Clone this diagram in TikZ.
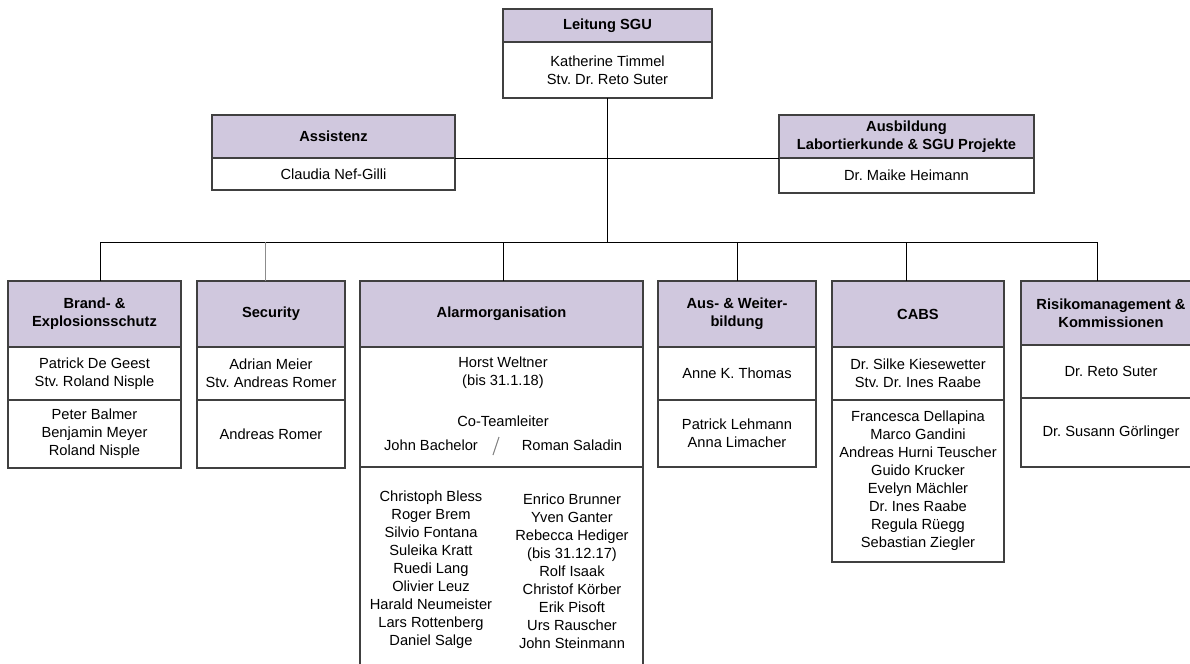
\documentclass[tikz,border=0pt]{standalone}
\usepackage{fontspec}
\setmainfont{Liberation Sans}
\usetikzlibrary{positioning}
\definecolor{headfill}{RGB}{208,200,222}
\definecolor{rulegray}{RGB}{64,64,64}
\frenchspacing

\begin{document}
\begin{tikzpicture}[
    x=0.75pt, y=-0.75pt,
    node distance=0pt,
    every node/.style={font=\fontsize{11}{13.5}\selectfont, inner sep=0pt, outer sep=0pt},
    cell/.style 2 args={
      draw=rulegray, line width=0.9pt, align=center,
      minimum width=#1*0.75pt, minimum height=#2*0.75pt
    },
    head/.style 2 args={
      cell={#1}{#2}, fill=headfill, anchor=north west,
      font=\fontsize{11}{13.5}\selectfont\bfseries
    },
    link/.style={draw=black, line width=0.7pt}
  ]
    \useasboundingbox (0,0) rectangle (1190,664);
    \clip (0,0) rectangle (1190,664);

    % Leitung
    \node[head={209}{33}] (leithead) at (503,9) {Leitung SGU};
    \node[cell={209}{56}, below=of leithead] (leitbody) {Katherine Timmel\\Stv. Dr. Reto Suter};

    % Stab
    \node[head={243}{43}] (asshead) at (212,115) {Assistenz};
    \node[cell={243}{32}, below=of asshead] (assbody) {Claudia Nef-Gilli};
    \node[head={255}{43}] (ausbhead) at (779,115) {Ausbildung\\Labortierkunde \& SGU Projekte};
    \node[cell={255}{35}, below=of ausbhead] (ausbbody) {Dr. Maike Heimann};

    % Bereiche
    \node[head={173}{66}] (brandhead) at (8,281) {Brand- \&\\Explosionsschutz};
    \node[cell={173}{53}, below=of brandhead] (brandlead) {Patrick De Geest\\Stv. Roland Nisple};
    \node[cell={173}{68}, below=of brandlead] (brandteam) {Peter Balmer\\Benjamin Meyer\\Roland Nisple};

    \node[head={148}{66}] (secuhead) at (197,281) {Security};
    \node[cell={148}{53}, below=of secuhead] (seculead) {Adrian Meier\\Stv. Andreas Romer};
    \node[cell={148}{68}, below=of seculead] (secuteam) {Andreas Romer};

    \node[head={283}{66}] (alarmhead) at (360,281) {Alarmorganisation};
    \node[cell={283}{120}, below=of alarmhead] (alarmlead) {};
    \node[cell={283}{220}, below=of alarmlead] (alarmteam) {};
    \node[align=center] (horst) at (503,372.5) {Horst Weltner\\(bis 31.1.18)};
    \node (coteam) at (503,421) {Co-Teamleiter};
    \node (bachelor) at (431,445) {John Bachelor};
    \node (saladin) at (572,445) {Roman Saladin};
    \draw[draw=black!50, line width=0.8pt] (493,455) -- (499,437);
    \node[align=center] (alarmleft) at (431,569.5) {Christoph Bless\\Roger Brem\\Silvio Fontana\\Suleika Kratt\\Ruedi Lang\\Olivier Leuz\\Harald Neumeister\\Lars Rottenberg\\Daniel Salge};
    \node[align=center] (alarmright) at (572,571) {Enrico Brunner\\Yven Ganter\\Rebecca Hediger\\(bis 31.12.17)\\Rolf Isaak\\Christof Körber\\Erik Pisoft\\Urs Rauscher\\John Steinmann};

    \node[head={158}{66}] (auswhead) at (658,281) {Aus- \& Weiter-\\bildung};
    \node[cell={158}{53}, below=of auswhead] (auswlead) {Anne K. Thomas};
    \node[cell={158}{67}, below=of auswlead] (auswteam) {Patrick Lehmann\\Anna Limacher};

    \node[head={172}{66}] (cabshead) at (832,281) {CABS};
    \node[cell={172}{53}, below=of cabshead] (cabslead) {Dr. Silke Kiesewetter\\Stv. Dr. Ines Raabe};
    \node[cell={172}{162}, below=of cabslead] (cabsteam) {Francesca Dellapina\\Marco Gandini\\Andreas Hurni Teuscher\\Guido Krucker\\Evelyn Mächler\\Dr. Ines Raabe\\Regula Rüegg\\Sebastian Ziegler};

    \node[head={180}{64}] (riskhead) at (1021,281) {Risikomanagement \&\\Kommissionen};
    \node[cell={180}{53}, below=of riskhead] (risklead) {Dr. Reto Suter};
    \node[cell={180}{69}, below=of risklead] (riskteam) {Dr. Susann Görlinger};

    % Verbindungen
    \foreach \n/\x in {brand/100, secu/265, alarm/503, ausw/737, cabs/906, risk/1097}
      \coordinate (d\n) at (\x,242);
    \draw[link] (leitbody.south) -- (leitbody.south |- dbrand);
    \draw[link] (asshead.south east) -- (ausbhead.south west);
    \draw[link] (dbrand) -- (drisk);
    \draw[link] (dbrand) -- (dbrand |- brandhead.north);
    \draw[link, draw=black!45] (dsecu) -- (dsecu |- secuhead.north);
    \draw[link] (dalarm) -- (dalarm |- alarmhead.north);
    \draw[link] (dausw) -- (dausw |- auswhead.north);
    \draw[link] (dcabs) -- (dcabs |- cabshead.north);
    \draw[link] (drisk) -- (drisk |- riskhead.north);
\end{tikzpicture}
\end{document}
